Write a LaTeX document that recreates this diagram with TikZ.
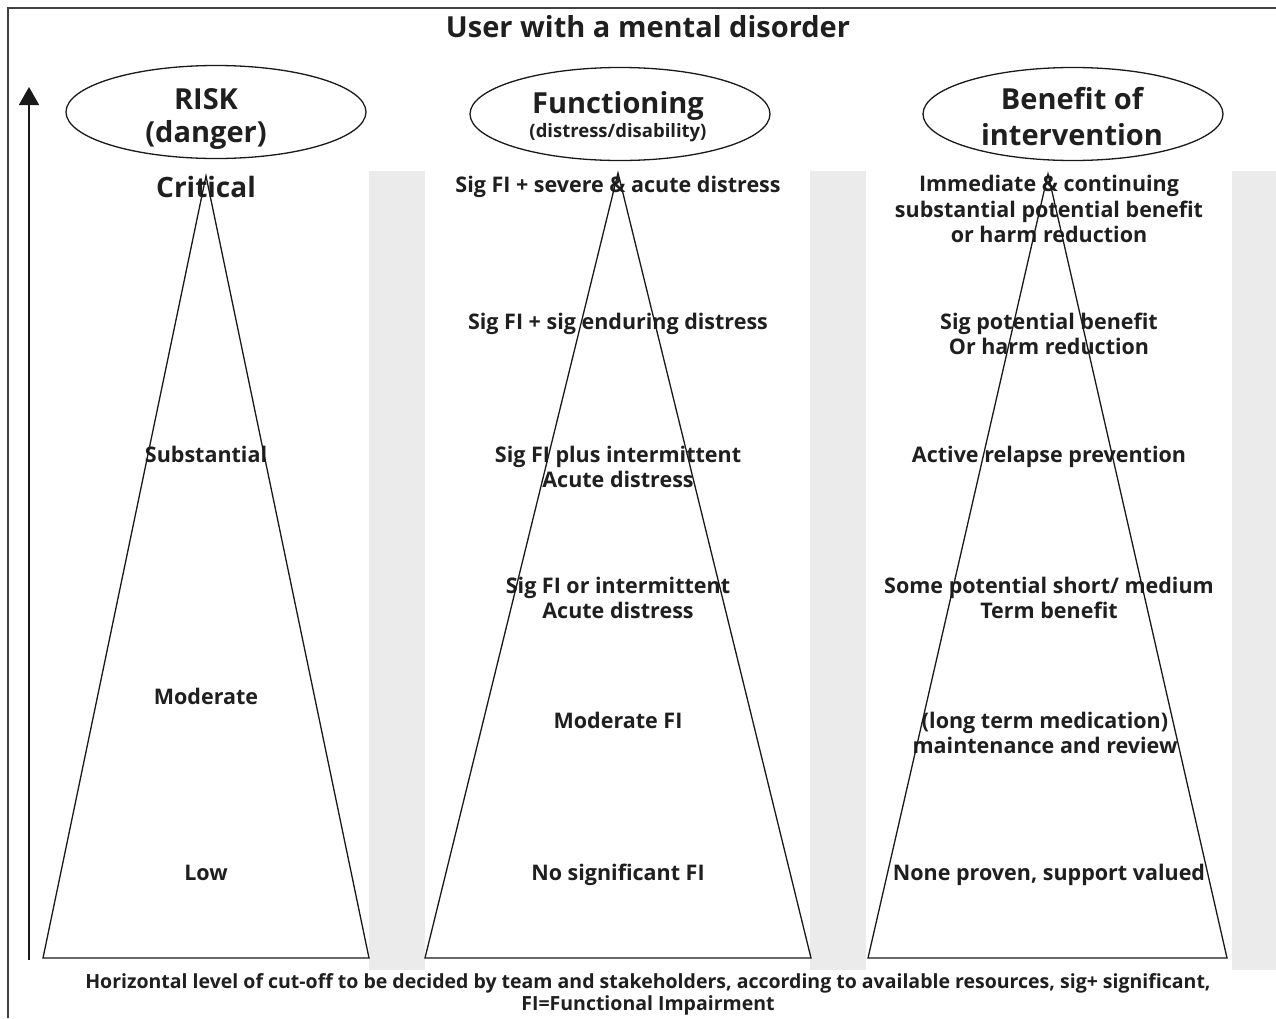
\documentclass[tikz,border=0pt]{standalone}
\usepackage{fontspec}
\setmainfont{Open Sans}
\usetikzlibrary{shapes.geometric,arrows.meta}
\begin{document}
\begin{tikzpicture}[x=1pt,y=-1pt,
  txt/.style={inner sep=0pt, align=center, text=black!88},
  lbl/.style={txt, font=\bfseries\fontsize{21.5}{25.5}\selectfont},
  big/.style={txt, font=\bfseries\fontsize{29}{33}\selectfont},
  head/.style={draw=black!90, line width=1.3pt, ellipse, minimum width=300pt, minimum height=93pt, inner sep=0pt},
  band/.style={fill=black!8, draw=none},
  frame/.style={draw=black!75, line width=1.2pt},
  triline/.style={draw=black!90, line width=1.3pt, line join=miter},
  axis/.style={draw=black!90, line width=1.8pt, -{Triangle[length=18pt,width=20pt]}}
]
\useasboundingbox (0,0) rectangle (1276,1018);
% frame
\draw[frame] (8,1018) -- (8,8) -- (1276,8);
% grey bands
\fill[band] (369,171) rectangle (425,970);
\fill[band] (810,171) rectangle (866,970);
\fill[band] (1232,171) rectangle (1276,970);
% axis arrow
\coordinate (axb) at (29,960);
\coordinate (axt) at (29,87);
\draw[axis] (axb) -- (axt);
% title
\node[txt, font=\bfseries\fontsize{29}{32}\selectfont] (title) at (648,27) {User with a mental disorder};
% headers
\node[head] (h1) at (216,112) {};
\node[big] (h1t) at (206,119) {RISK\\(danger)};
\node[head] (h2) at (620,114) {};
\node[big] (h2t) at (618,106) {Functioning};
\node[txt, font=\bfseries\fontsize{18.5}{20}\selectfont] (h2s) at (618,133) {(distress/disability)};
\node[head] (h3) at (1073,114) {};
\node[txt, font=\bfseries\fontsize{29}{36}\selectfont] (h3t) at (1072,117) {Benefit of\\intervention};
% triangles
\coordinate (a1) at (206,176); \coordinate (l1) at (43,958); \coordinate (r1) at (369,958);
\coordinate (a2) at (618,173); \coordinate (l2) at (425,958); \coordinate (r2) at (811,958);
\coordinate (a3) at (1048,174); \coordinate (l3) at (868,958); \coordinate (r3) at (1227,958);
% column 1 labels
\node[txt, font=\bfseries\fontsize{28}{32}\selectfont] (c1a) at (206,187) {Critical};
\node[lbl] (c1b) at (206,454) {Substantial};
\node[lbl] (c1c) at (206,696) {Moderate};
\node[lbl] (c1d) at (206,873) {Low};
% column 2 labels
\node[lbl] (c2a) at (618,187) {Sig FI + severe \& acute distress};
\node[lbl] (c2b) at (618,324) {Sig FI + sig enduring distress};
\node[lbl] (c2c) at (618,467) {Sig FI plus intermittent\\Acute distress};
\node[lbl] (c2d) at (618,598) {Sig FI or intermittent\\Acute distress};
\node[lbl] (c2e) at (618,720) {Moderate FI};
\node[lbl] (c2f) at (618,875) {No significant FI};
% column 3 labels
\node[lbl] (c3a) at (1049,209) {Immediate \& continuing\\substantial potential benefit\\or harm reduction};
\node[lbl] (c3b) at (1049,334) {Sig potential benefit\\Or harm reduction};
\node[lbl] (c3c) at (1049,457) {Active relapse prevention};
\node[lbl] (c3d) at (1049,598) {Some potential short/ medium\\Term benefit};
\node[lbl] (c3e) at (1045,733) {(long term medication)\\maintenance and review};
\node[lbl] (c3f) at (1049,875) {None proven, support valued};
% triangle outlines (over text)
\draw[triline] (a1) -- (r1) -- (l1) -- cycle;
\draw[triline] (a2) -- (r2) -- (l2) -- cycle;
\draw[triline] (a3) -- (r3) -- (l3) -- cycle;
% footnote
\node[txt, font=\bfseries\fontsize{19.5}{22}\selectfont] (foot) at (648,994) {Horizontal level of cut-off to be decided by team and stakeholders, according to available resources, sig+ significant,\\FI=Functional Impairment};
\end{tikzpicture}
\end{document}
